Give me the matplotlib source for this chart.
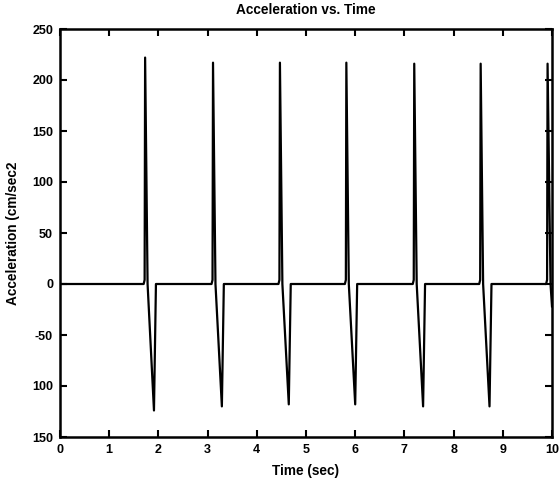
# Acceleration vs. Time - periodic spike trace

import matplotlib
matplotlib.use('Agg')
import matplotlib.pyplot as plt

# Trace keypoints (time in s, acceleration in cm/sec^2)
time = [0.0, 1.70, 1.72, 1.73, 1.78, 1.91, 1.95,
        3.08, 3.10, 3.11, 3.16, 3.29, 3.33,
        4.44, 4.46, 4.47, 4.52, 4.65, 4.69,
        5.79, 5.81, 5.82, 5.87, 6.00, 6.04,
        7.17, 7.19, 7.20, 7.25, 7.38, 7.42,
        8.52, 8.54, 8.55, 8.60, 8.73, 8.77,
        9.88, 9.90, 9.91, 9.97, 10.0]
accel = [0, 0, 4, 222, 0, -124, 0,
         0, 4, 217, 0, -120, 0,
         0, 4, 217, 0, -118, 0,
         0, 4, 217, 0, -118, 0,
         0, 4, 216, 0, -120, 0,
         0, 4, 216, 0, -120, 0,
         0, 4, 216, 0, -22]

xticks = list(range(0, 11))
yticks = [250, 200, 150, 100, 50, 0, -50, -100, -150]
ytick_labels = ['250', '200', '150', '100', '50', '0', '-50', '100', '150']

plt.rcParams['font.family'] = ['Liberation Sans', 'DejaVu Sans']
plt.rcParams['font.weight'] = 'bold'

fig = plt.figure(figsize=(5.59, 4.82), dpi=100)
ax = fig.add_axes([60/559, 1 - 437/482, 492/559, 408/482])

ax.plot(time, accel, color='black', linewidth=1.6)

ax.set_xlim(0, 10)
ax.set_ylim(-150, 250)
ax.set_xticks(xticks)
ax.set_yticks(yticks)
ax.set_yticklabels(ytick_labels)
ax.tick_params(direction='in', length=5, width=1.5, top=True, right=True,
               labelsize=9, pad=5)
for s in ax.spines.values():
    s.set_linewidth(1.8)

ax.set_title('Acceleration vs. Time', fontsize=9.8, fontweight='bold', pad=11)
ax.set_xlabel('Time (sec)', fontsize=9.8, fontweight='bold', labelpad=6)
ax.set_ylabel('Acceleration (cm/sec2', fontsize=9.8, fontweight='bold', labelpad=9)

fig.savefig('out.png', dpi=100)
